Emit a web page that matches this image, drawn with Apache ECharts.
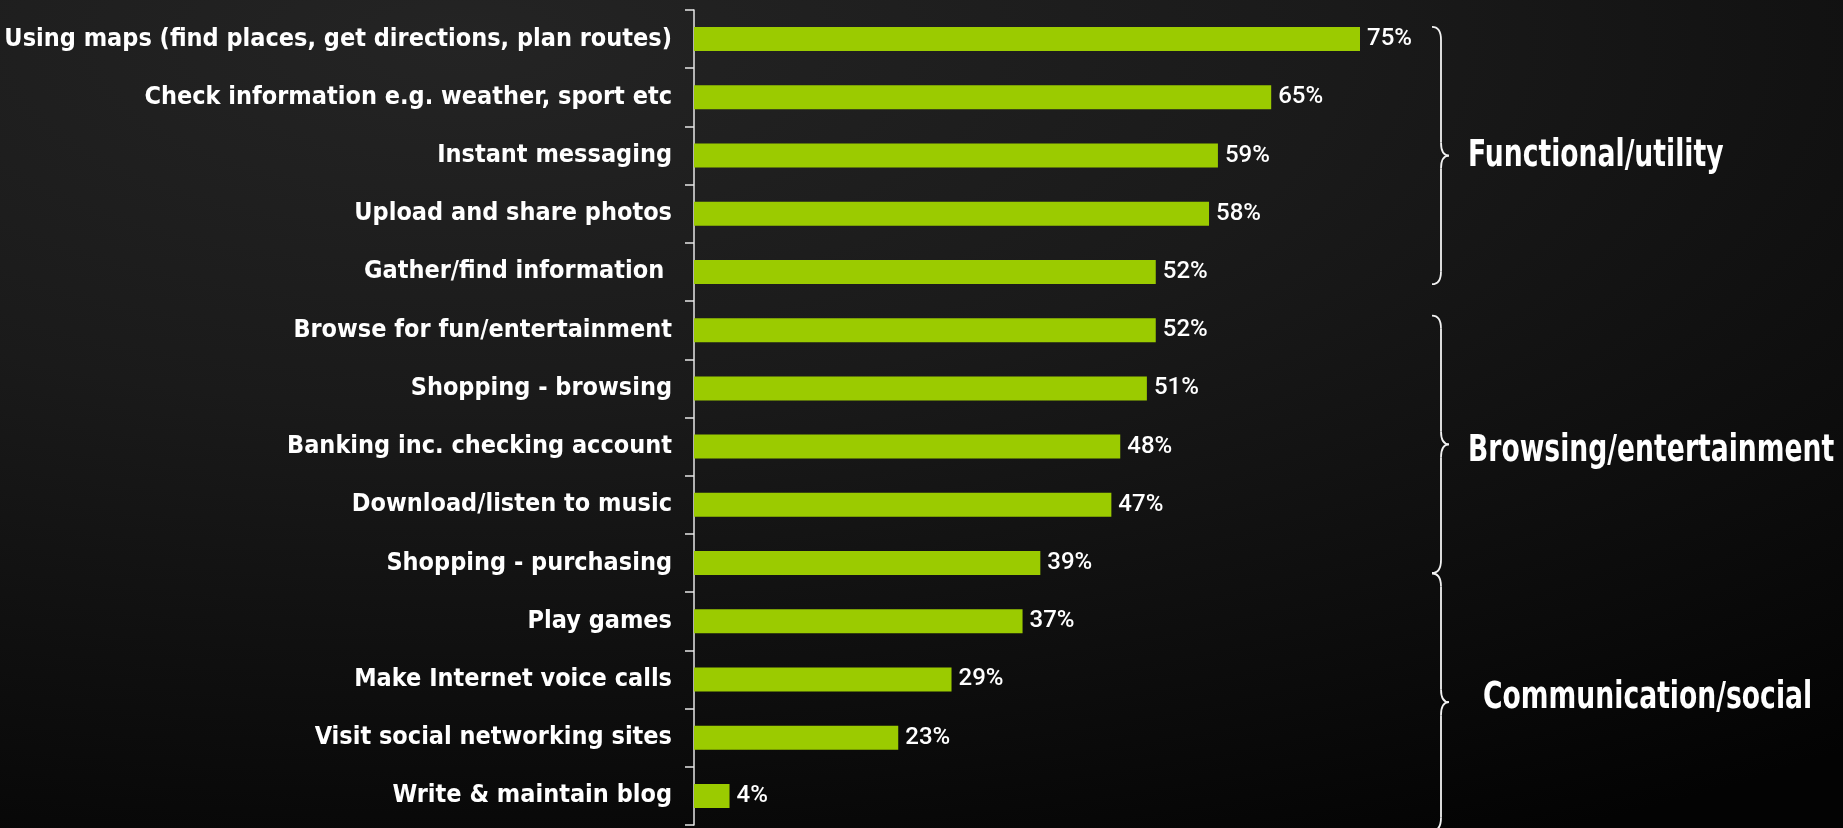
<!DOCTYPE html>
<html>
<head>
<meta charset="utf-8">
<script src="https://cdn.jsdelivr.net/npm/echarts@6/dist/echarts.min.js"></script>
<style>
  html, body { margin: 0; padding: 0; background: #0c0c0c; }
  #chart {
    width: 1843px; height: 828px;
    background: radial-gradient(ellipse 120% 110% at 25% 5%, #242424 0%, #1a1a1a 40%, #0b0b0b 80%, #030303 100%);
  }
</style>
</head>
<body>
<div id="chart"></div>
<script>
// Online activities on mobile devices, share of users
const activities = [
  'Using maps (find places, get directions, plan routes)',
  'Check information e.g. weather, sport etc',
  'Instant messaging',
  'Upload and share photos',
  'Gather/find information ',
  'Browse for fun/entertainment',
  'Shopping - browsing',
  'Banking inc. checking account',
  'Download/listen to music',
  'Shopping - purchasing',
  'Play games',
  'Make Internet voice calls',
  'Visit social networking sites',
  'Write & maintain blog'
];
const shares = [75, 65, 59, 58, 52, 52, 51, 48, 47, 39, 37, 29, 23, 4];

const groupNames = ['Functional/utility', 'Browsing/entertainment', 'Communication/social'];

const labelFont = '"DejaVu Sans Condensed", "Liberation Sans Narrow", sans-serif';

const chart = echarts.init(document.getElementById('chart'), null, { renderer: 'canvas' });

chart.setOption({
  backgroundColor: 'transparent',
  animation: false,
  grid: { left: 694, right: 261, top: 10, bottom: 3, containLabel: false, outerBoundsMode: 'none' },
  xAxis: {
    type: 'value', min: 0, max: 100, show: false
  },
  yAxis: {
    type: 'category',
    data: activities,
    inverse: true,
    axisLine: { show: true, lineStyle: { color: '#e6e6e6', width: 1.5 } },
    axisTick: { show: true, inside: false, length: 9, lineStyle: { color: '#e6e6e6', width: 1.5 } },
    axisLabel: {
      color: '#ffffff', fontFamily: labelFont, fontWeight: 'bold', fontSize: 25, margin: 22
    },
    splitLine: { show: false }
  },
  series: [{
    type: 'bar',
    data: shares,
    barWidth: 24,
    itemStyle: { color: '#9bcb00' },
    label: {
      show: true, position: 'right', distance: 7,
      formatter: '{c}%',
      color: '#ffffff', fontFamily: 'Roboto, "Noto Sans", sans-serif', fontWeight: 500, fontSize: 24
    }
  }]
});

// Curly braces grouping the rows; centres and half-height in row units
const braceCentres = [2.0, 6.96, 11.39];
const braceHalf = 2.21;
const textLeft = [1468, 1468, 1483];
const textShift = [1, 7, -4];
const y0 = chart.convertToPixel({ yAxisIndex: 0 }, 0);
const y1 = chart.convertToPixel({ yAxisIndex: 0 }, 1);
const rowY = r => y0 + (y1 - y0) * r;
const bx = 1441;
const braceStyle = { stroke: '#f2f2f2', lineWidth: 1.8, fill: null };

function braceParts(top, bot, tip) {
  const h = 9, t = 8, r = 13;
  const curve = (xa, ya, cx, cy, xb, yb) => ({
    type: 'bezierCurve',
    shape: { x1: xa, y1: ya, cpx1: cx, cpy1: cy, x2: xb, y2: yb },
    style: braceStyle
  });
  const seg = (ya, yb) => ({
    type: 'line', shape: { x1: bx, y1: ya, x2: bx, y2: yb }, style: braceStyle
  });
  return [
    curve(bx - h, top, bx, top, bx, top + r),
    seg(top + r, tip - r),
    curve(bx, tip - r, bx, tip, bx + t, tip),
    curve(bx + t, tip, bx, tip, bx, tip + r),
    seg(tip + r, bot - r),
    curve(bx, bot - r, bx, bot, bx - h, bot)
  ];
}

const graphics = [];
braceCentres.forEach((c, i) => {
  const top = rowY(c - braceHalf), bot = rowY(c + braceHalf), tip = rowY(c);
  braceParts(top, bot, tip).forEach(p => graphics.push(p));
  graphics.push({
    type: 'text',
    x: textLeft[i], y: tip + textShift[i],
    scaleX: 0.8,
    style: {
      text: groupNames[i], fill: '#ffffff',
      font: 'bold 37px ' + labelFont,
      verticalAlign: 'middle'
    }
  });
});
chart.setOption({ graphic: graphics });
</script>
</body>
</html>
